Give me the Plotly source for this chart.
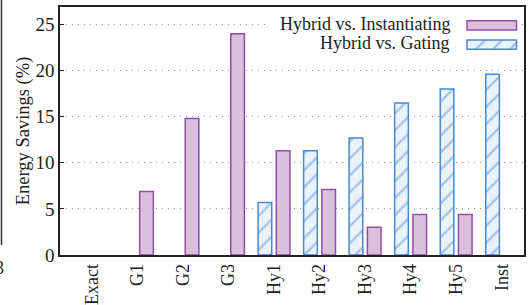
import plotly.graph_objects as go

categories = ["Exact", "G1", "G2", "G3", "Hy1", "Hy2", "Hy3", "Hy4", "Hy5", "Inst"]
vs_instantiating = [None, 6.9, 14.8, 24.0, 11.3, 7.1, 3.0, 4.4, 4.4, None]
vs_gating = [None, None, None, None, 5.7, 11.3, 12.7, 16.5, 18.0, 19.6]
y_ticks = [0, 5, 10, 15, 20, 25]

series_names = ["Hybrid vs. Instantiating", "Hybrid vs. Gating"]

FONT = "Liberation Serif"
PURPLE_FILL = "#dcbfdc"
PURPLE_LINE = "#8f4fa9"
BLUE_LINE = "#4a88d0"
BLUE_FILL = "#eaf3fc"

L, R, T, B = 60, 8, 7, 50
PW, PH = 532 - L - R, 305 - T - B


def px_x(px):
    return (px - L) / PW


def px_y(py):
    return (305 - B - py) / PH


fig = go.Figure()

x_idx = list(range(len(categories)))

fig.add_trace(go.Bar(
    x=x_idx, y=vs_gating, name=series_names[1], showlegend=False,
    marker=dict(color=BLUE_FILL, line=dict(color=BLUE_LINE, width=1.5),
                pattern=dict(shape="/", fgcolor=BLUE_LINE, bgcolor=BLUE_FILL,
                             size=12, solidity=0.17)),
))
fig.add_trace(go.Bar(
    x=x_idx, y=vs_instantiating, name=series_names[0], showlegend=False,
    marker=dict(color=PURPLE_FILL, line=dict(color=PURPLE_LINE, width=1.5)),
))

# legend background (white box hiding the grid behind the key)
bg_h = px_y(10) - px_y(55)
fig.add_trace(go.Bar(
    orientation="h", x=[px_x(522) - px_x(268)], base=[px_x(268)], y=[(px_y(10) + px_y(55)) / 2],
    width=[bg_h], offset=-bg_h / 2, xaxis="x2", yaxis="y2", showlegend=False,
    hoverinfo="skip", marker=dict(color="white", line=dict(width=0)),
))

# custom legend swatches (text left, swatch right, as in the reference)
sw_x0, sw_x1 = px_x(467), px_x(516.5)
sw_h = 9.3 / PH
for cy, mk in [
    (px_y(25.3), dict(color=PURPLE_FILL, line=dict(color=PURPLE_LINE, width=1.5))),
    (px_y(44.7), dict(color=BLUE_FILL, line=dict(color=BLUE_LINE, width=1.5),
                      pattern=dict(shape="/", fgcolor=BLUE_LINE, bgcolor=BLUE_FILL,
                                   size=12, solidity=0.17))),
]:
    fig.add_trace(go.Bar(
        orientation="h", x=[sw_x1 - sw_x0], base=[sw_x0], y=[cy], width=[sw_h], offset=-sw_h / 2,
        xaxis="x2", yaxis="y2", showlegend=False, hoverinfo="skip", marker=mk,
    ))

fig.add_annotation(x=px_x(452), y=px_y(23.5), xref="paper", yref="paper", text=series_names[0],
                   showarrow=False, xanchor="right", yanchor="middle",
                   font=dict(family=FONT, size=18, color="#222"))
fig.add_annotation(x=px_x(452), y=px_y(43), xref="paper", yref="paper", text=series_names[1],
                   showarrow=False, xanchor="right", yanchor="middle",
                   font=dict(family=FONT, size=18, color="#222"))

# fragment of neighbouring figure at the far left edge
fig.add_shape(type="line", xref="paper", yref="paper",
              x0=px_x(1.5), x1=px_x(1.5), y0=px_y(0), y1=px_y(245),
              line=dict(color="#333", width=1.5))
fig.add_annotation(x=px_x(5.5), y=px_y(268), xref="paper", yref="paper",
                   text="3", showarrow=False, xanchor="right", yanchor="middle",
                   font=dict(family=FONT, size=18, color="#222"))

fig.update_layout(
    width=532, height=305,
    margin=dict(l=L, r=R, t=T, b=B, autoexpand=False),
    paper_bgcolor="white", plot_bgcolor="white",
    barmode="group", bargap=0.2, bargroupgap=0.25,
    font=dict(family=FONT, size=18, color="#222"),
    xaxis=dict(
        tickmode="array", tickvals=x_idx, ticktext=categories,
        range=[-0.70, 9.49], tickangle=-90, showgrid=False,
        showline=True, linecolor="#222", linewidth=1.5, mirror=True,
        ticks="", zeroline=False, tickfont=dict(size=18), automargin=False,
    ),
    yaxis=dict(
        title=dict(text="Energy Savings (%)", font=dict(size=18.5), standoff=1),
        range=[0, 26.9], tickvals=y_ticks,
        showgrid=True, gridcolor="#8a8a8a", griddash="1px,5px", gridwidth=1,
        showline=True, linecolor="#222", linewidth=1.5, mirror=True,
        ticks="inside", ticklen=4, tickcolor="#222", zeroline=False,
        tickfont=dict(size=19), automargin=False,
    ),
    xaxis2=dict(overlaying="x", range=[0, 1], visible=False),
    yaxis2=dict(overlaying="y", range=[0, 1], visible=False),
)

fig.write_html("out.html", post_script="document.body.style.margin='0';",
               config={"displayModeBar": False})
